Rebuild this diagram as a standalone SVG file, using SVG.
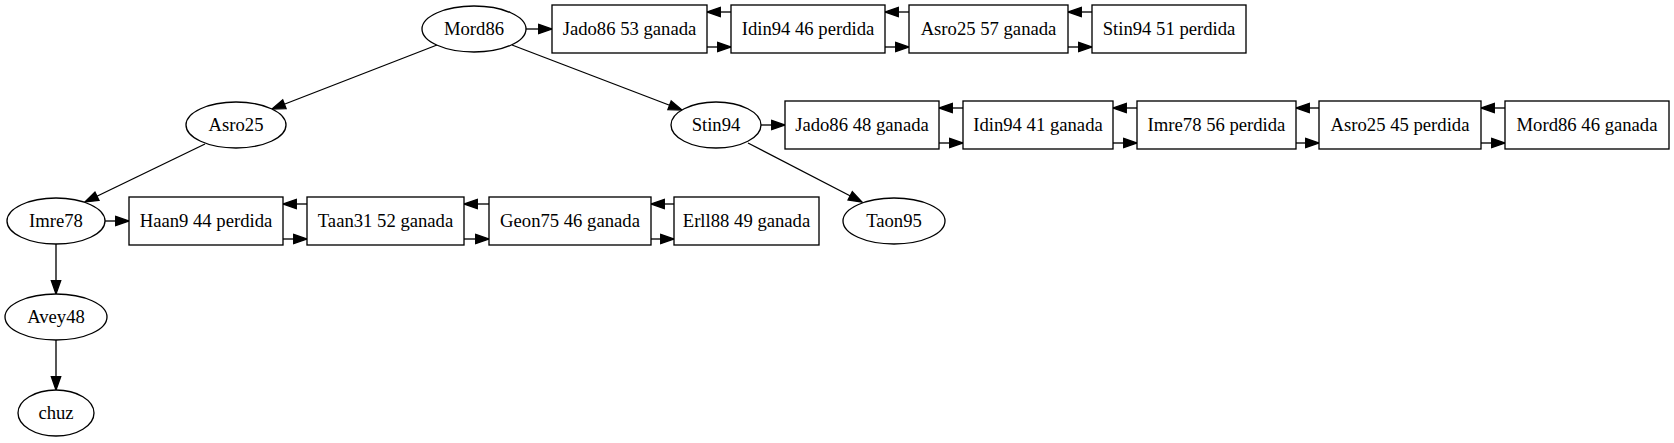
<svg xmlns="http://www.w3.org/2000/svg" width="1674" height="443" viewBox="0 0 1674 443">
<style>
.n ellipse, .n rect { fill: #fff; stroke: #000; stroke-width: 1.33; }
.n text { font-size: 18.67px; text-anchor: middle; fill: #000; }
.e line { stroke: #000; stroke-width: 1.33; marker-end: url(#ah); }
</style>
<defs>
<marker id="ah" markerUnits="userSpaceOnUse" markerWidth="16" markerHeight="12" refX="13.3" refY="4.67" orient="auto" overflow="visible">
<path d="M0,0 L13.3,4.67 L0,9.33 Z" fill="#000" stroke="#000" stroke-width="1.33"/>
</marker>
</defs>
<rect width="1674" height="443" fill="#fff"/>
<g id="edges" class="e">
<line x1="526" y1="29" x2="552" y2="29"/>
<line x1="707" y1="47" x2="731" y2="47"/>
<line x1="731" y1="12" x2="707" y2="12"/>
<line x1="885" y1="47" x2="909" y2="47"/>
<line x1="909" y1="12" x2="885" y2="12"/>
<line x1="1068" y1="47" x2="1092" y2="47"/>
<line x1="1092" y1="12" x2="1068" y2="12"/>
<line x1="761" y1="125" x2="785" y2="125"/>
<line x1="939" y1="143" x2="963" y2="143"/>
<line x1="963" y1="108" x2="939" y2="108"/>
<line x1="1113" y1="143" x2="1137" y2="143"/>
<line x1="1137" y1="108" x2="1113" y2="108"/>
<line x1="1296" y1="143" x2="1319" y2="143"/>
<line x1="1319" y1="108" x2="1296" y2="108"/>
<line x1="1481" y1="143" x2="1505" y2="143"/>
<line x1="1505" y1="108" x2="1481" y2="108"/>
<line x1="105" y1="221" x2="129" y2="221"/>
<line x1="283" y1="239" x2="307" y2="239"/>
<line x1="307" y1="204" x2="283" y2="204"/>
<line x1="464" y1="239" x2="489" y2="239"/>
<line x1="489" y1="204" x2="464" y2="204"/>
<line x1="651" y1="239" x2="674" y2="239"/>
<line x1="674" y1="204" x2="651" y2="204"/>
<line x1="437" y1="45" x2="272" y2="109"/>
<line x1="512" y1="45" x2="682" y2="110"/>
<line x1="205" y1="144" x2="85" y2="202"/>
<line x1="748" y1="143" x2="862" y2="202"/>
<line x1="56" y1="244" x2="56" y2="294"/>
<line x1="56" y1="340" x2="56" y2="390"/>
</g>
<g font-family="Liberation Serif, serif">
<g id="Mord86" class="n"><ellipse cx="474" cy="29" rx="52" ry="23"/><text x="474" y="35">Mord86</text></g>
<g id="Asro25" class="n"><ellipse cx="236" cy="125" rx="50" ry="23"/><text x="236" y="131">Asro25</text></g>
<g id="Stin94" class="n"><ellipse cx="716" cy="125" rx="45" ry="23"/><text x="716" y="131">Stin94</text></g>
<g id="Imre78" class="n"><ellipse cx="56" cy="221" rx="49" ry="23"/><text x="56" y="227">Imre78</text></g>
<g id="Taon95" class="n"><ellipse cx="894" cy="221" rx="51" ry="23"/><text x="894" y="227">Taon95</text></g>
<g id="Avey48" class="n"><ellipse cx="56" cy="317" rx="51" ry="23"/><text x="56" y="323">Avey48</text></g>
<g id="chuz" class="n"><ellipse cx="56" cy="413" rx="38" ry="23"/><text x="56" y="419">chuz</text></g>
<g id="r1a" class="n"><rect x="552" y="5" width="155" height="48"/><text x="629.5" y="35">Jado86 53 ganada</text></g>
<g id="r1b" class="n"><rect x="731" y="5" width="154" height="48"/><text x="808" y="35">Idin94 46 perdida</text></g>
<g id="r1c" class="n"><rect x="909" y="5" width="159" height="48"/><text x="988.5" y="35">Asro25 57 ganada</text></g>
<g id="r1d" class="n"><rect x="1092" y="5" width="154" height="48"/><text x="1169" y="35">Stin94 51 perdida</text></g>
<g id="r2a" class="n"><rect x="785" y="101" width="154" height="48"/><text x="862" y="131">Jado86 48 ganada</text></g>
<g id="r2b" class="n"><rect x="963" y="101" width="150" height="48"/><text x="1038" y="131">Idin94 41 ganada</text></g>
<g id="r2c" class="n"><rect x="1137" y="101" width="159" height="48"/><text x="1216.5" y="131">Imre78 56 perdida</text></g>
<g id="r2d" class="n"><rect x="1319" y="101" width="162" height="48"/><text x="1400" y="131">Asro25 45 perdida</text></g>
<g id="r2e" class="n"><rect x="1505" y="101" width="164" height="48"/><text x="1587" y="131">Mord86 46 ganada</text></g>
<g id="r3a" class="n"><rect x="129" y="197" width="154" height="48"/><text x="206" y="227">Haan9 44 perdida</text></g>
<g id="r3b" class="n"><rect x="307" y="197" width="157" height="48"/><text x="385.5" y="227">Taan31 52 ganada</text></g>
<g id="r3c" class="n"><rect x="489" y="197" width="162" height="48"/><text x="570" y="227">Geon75 46 ganada</text></g>
<g id="r3d" class="n"><rect x="674" y="197" width="145" height="48"/><text x="746.5" y="227">Erll88 49 ganada</text></g>
</g>
</svg>
